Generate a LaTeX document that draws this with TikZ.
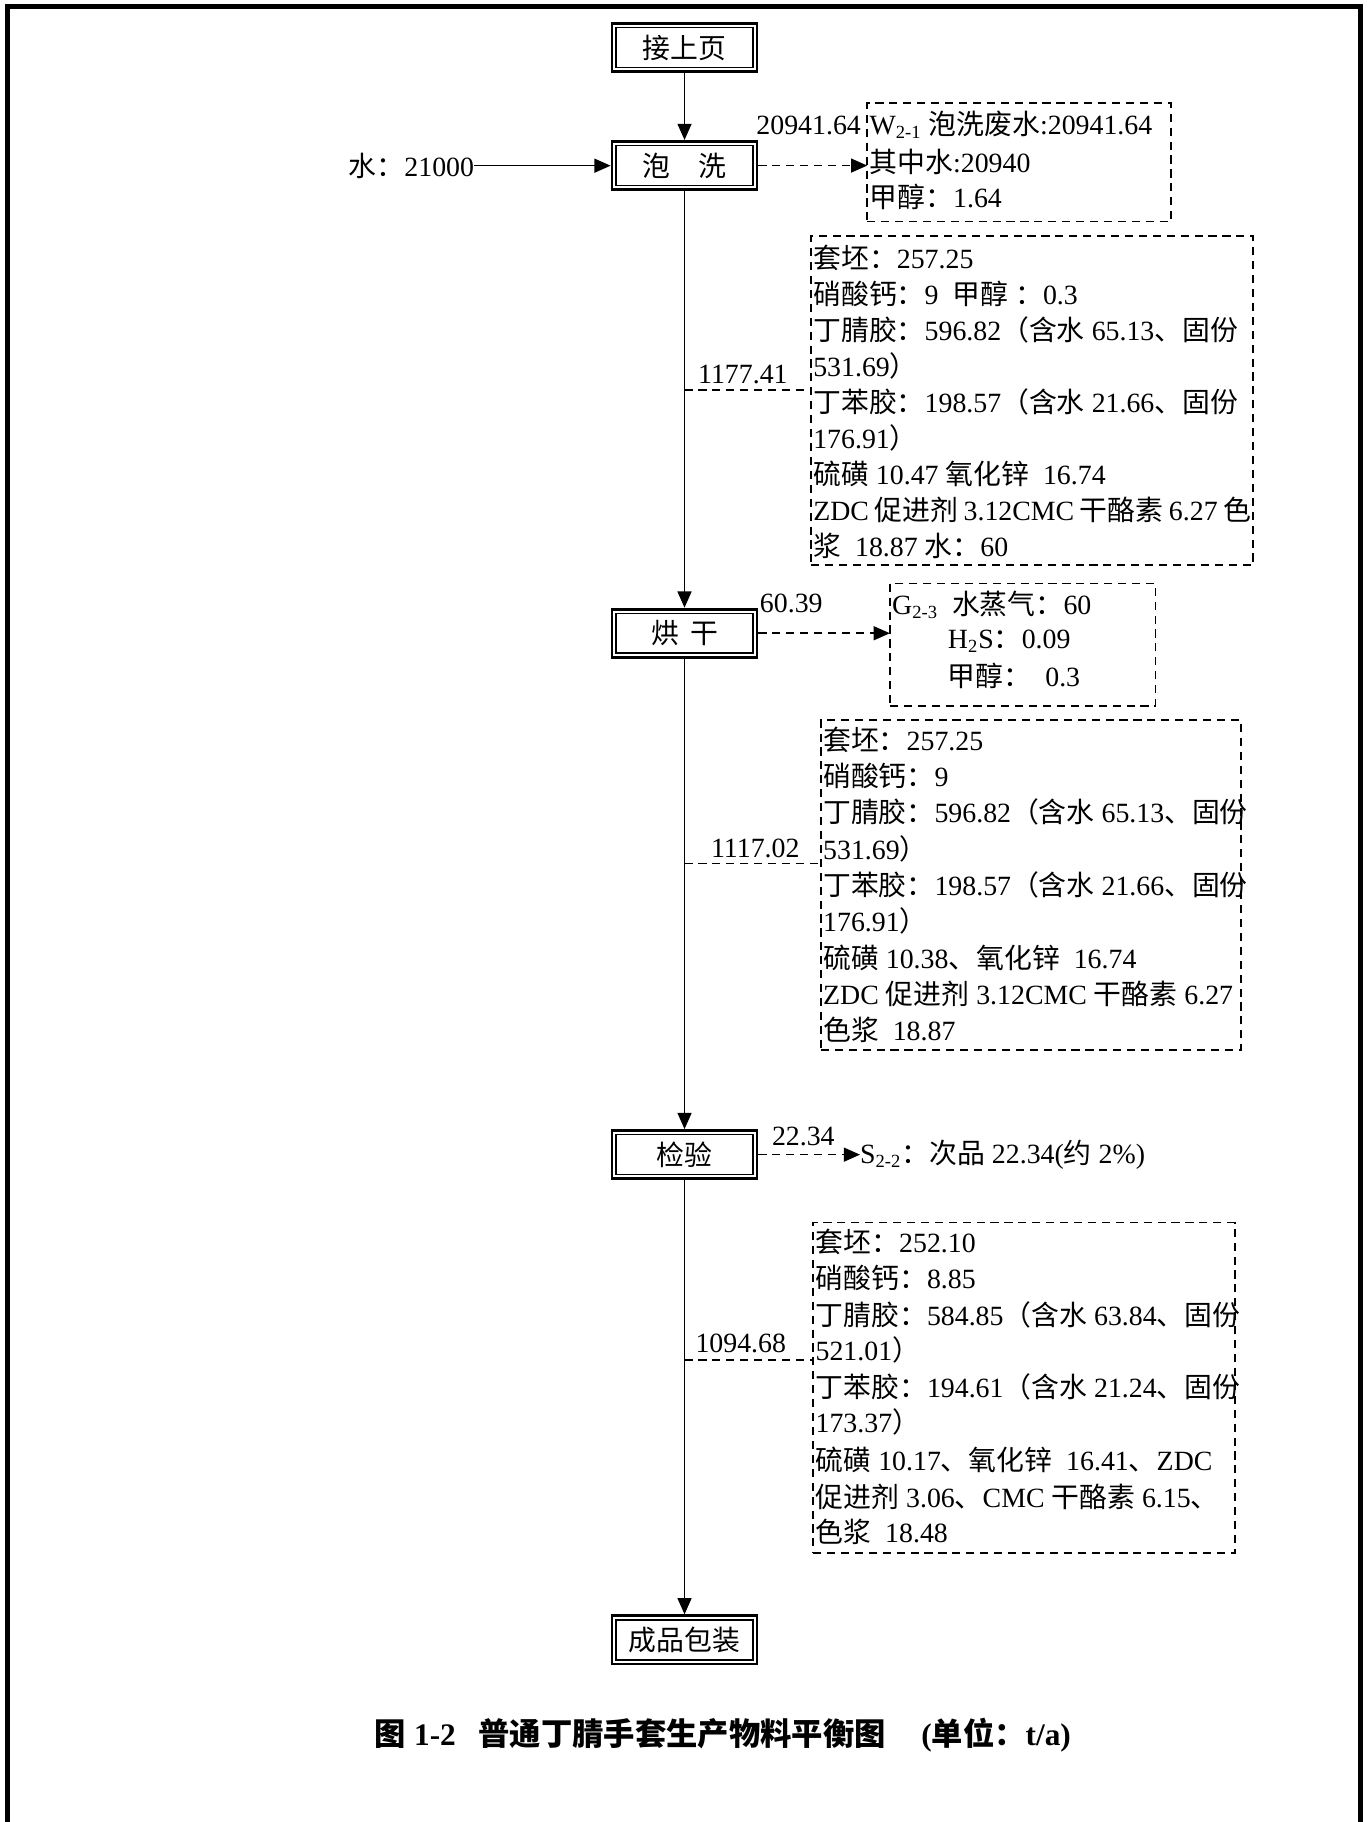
\documentclass[tikz,border=0pt]{standalone}
\usepackage{fontspec}
\setmainfont{Liberation Serif}
\newfontfamily\cjk{Noto Sans CJK SC}
\usetikzlibrary{arrows.meta,calc}
\newcommand\zh[1]{{\cjk #1}}
\begin{document}
\begin{tikzpicture}[x=0.5pt,y=-0.5pt,
  every node/.style={inner sep=0pt, outer sep=0pt, font=\fontsize{12pt}{14pt}\selectfont},
  procbox/.style={draw, line width=1.2pt, outer sep=0.6pt, minimum width=62.5pt, minimum height=20.8pt, inner sep=0pt, font=\fontsize{12pt}{14pt}\selectfont\cjk},
  flow/.style={line width=0.7pt, -{Triangle[length=7pt,width=6pt]}},
  dflow/.style={line width=0.7pt, dash pattern=on 3.5pt off 2.5pt, -{Triangle[length=7pt,width=6pt]}},
  dline/.style={line width=0.7pt, dash pattern=on 3.5pt off 2.5pt},
  dbox/.style={draw, line width=0.7pt, dash pattern=on 3.5pt off 2.5pt},
  txt/.style={anchor=west},
  lbl/.style={anchor=center},
]
\useasboundingbox (0,0) rectangle (1180,1570.4);
% page frame
\draw[line width=2.15pt] (6.5,1590) -- (6.5,5.6) -- (1172.8,5.6) -- (1172.8,1590);

% process boxes
\node[procbox] (jsy) at (590,41) {接上页};
\node[procbox] (px)  at (590,142.7) {泡　洗};
\node[procbox] (hg)  at (590,545.8) {烘\hspace{0.4em}干};
\node[procbox] (jy)  at (590,995.2) {检验};
\node[procbox] (cp)  at (590,1413.4) {成品包装};
\foreach \n in {jsy,px,hg,jy,cp}
  \draw[line width=0.65pt] ([shift={(2.4pt,-2.4pt)}]\n.north west) rectangle ([shift={(-2.4pt,2.4pt)}]\n.south east);

% main flow
\draw[flow] (jsy.south) -- (px.north);
\draw[flow] (px.south) -- (hg.north);
\draw[flow] (hg.south) -- (jy.north);
\draw[flow] (jy.south) -- (cp.north);

% water input
\node[txt] (w0) at (300.6,142.8) {\zh{水：}21000};
\draw[flow] (w0.east) -- (w0.east -| px.west);

% W box
\node[dbox, minimum width=131pt, minimum height=51pt] (wb) at (878.5,140) {};
\node[txt] (wl1) at (749.5,107.7) {W\textsubscript{2-1} \zh{泡洗废水}:20941.64};
\node[txt] (wl2) at (749.5,139.5) {\zh{其中水}:20940};
\node[txt] (wl3) at (749.5,170) {\zh{甲醇：}1.64};
\draw[dflow] (px.east) -- (px.east -| wb.west);
\node[txt] (lw) at (652,107.7) {20941.64};

% box 1
\node[dbox, minimum width=190.5pt, minimum height=141.8pt] (b1) at (889.5,345.2) {};
\node[txt] (b1a) at (701,222) {\zh{套坯：}257.25};
\node[txt] (b1b) at (701,253.1) {\zh{硝酸钙：}9\ \ \zh{甲醇}\ \zh{：}0.3};
\node[txt] (b1c) at (701,284.2) {\zh{丁腈胶：}596.82\zh{（含水} 65.13\zh{、固份}};
\node[txt] (b1d) at (701,315.3) {531.69\zh{）}};
\node[txt] (b1e) at (701,346.4) {\zh{丁苯胶：}198.57\zh{（含水} 21.66\zh{、固份}};
\node[txt] (b1f) at (701,377.5) {176.91\zh{）}};
\node[txt] (b1g) at (701,408.6) {\zh{硫磺} 10.47 \zh{氧化锌}\ \ 16.74};
\node[txt] (b1h) at (701,439.7) {ZDC\hspace{2.4pt}\zh{促进剂}\hspace{2.4pt}3.12CMC\hspace{2.4pt}\zh{干酪素}\hspace{2.4pt}6.27\hspace{2.4pt}\zh{色}};
\node[txt] (b1i) at (701,470.8) {\zh{浆}\ \ 18.87 \zh{水：}60};
\coordinate (t1) at (590,336.2);
\draw[dline] (t1) -- (t1 -| b1.west);
\node[lbl] (l1) at (640.3,322.4) {1177.41};

% G box
\node[dbox, minimum width=114.5pt, minimum height=52.85pt] (gb) at (881.5,555.65) {};
\node[txt] (g1) at (769,521.5) {G\textsubscript{2-3}\ \ \zh{水蒸气：}60};
\node[txt] (g2) at (817,552.5) {H\textsubscript{2}S\zh{：}0.09};
\node[txt] (g3) at (817,582.7) {\zh{甲醇：}\ \ 0.3};
\draw[dflow] (hg.east) -- (hg.east -| gb.west);
\node[txt] (lg) at (655,520) {60.39};

% box 2
\node[dbox, minimum width=181pt, minimum height=142.2pt] (b2) at (888.5,762.8) {};
\node[txt] (b2a) at (709.5,637.8) {\zh{套坯：}257.25};
\node[txt] (b2b) at (709.5,668.8) {\zh{硝酸钙：}9};
\node[txt] (b2c) at (709.5,700) {\zh{丁腈胶：}596.82\zh{（含水} 65.13\zh{、固份}};
\node[txt] (b2d) at (709.5,731.3) {531.69\zh{）}};
\node[txt] (b2e) at (709.5,762.5) {\zh{丁苯胶：}198.57\zh{（含水} 21.66\zh{、固份}};
\node[txt] (b2f) at (709.5,793.8) {176.91\zh{）}};
\node[txt] (b2g) at (709.5,825.5) {\zh{硫磺} 10.38\zh{、氧化锌}\ \ 16.74};
\node[txt] (b2h) at (709.5,857) {ZDC \zh{促进剂} 3.12CMC \zh{干酪素} 6.27};
\node[txt] (b2i) at (709.5,888) {\zh{色浆}\ \ 18.87};
\coordinate (t2) at (590,744.1);
\draw[dline] (t2) -- (t2 -| b2.west);
\node[lbl] (l2) at (651,731.2) {1117.02};

% S output
\node[txt] (sx) at (741.3,995.5) {S\textsubscript{2-2}\zh{：次品} 22.34(\zh{约} 2\%)};
\draw[dflow] (jy.east) -- (jy.east -| sx.west);
\node[txt] (ls) at (665.4,979.7) {22.34};

% box 3
\node[dbox, minimum width=181.85pt, minimum height=142.25pt] (b3) at (882.65,1196.05) {};
\node[txt] (b3a) at (703,1070.2) {\zh{套坯：}252.10};
\node[txt] (b3b) at (703,1101.8) {\zh{硝酸钙：}8.85};
\node[txt] (b3c) at (703,1133.4) {\zh{丁腈胶：}584.85\zh{（含水} 63.84\zh{、固份}};
\node[txt] (b3d) at (703,1163.6) {521.01\zh{）}};
\node[txt] (b3e) at (703,1195.2) {\zh{丁苯胶：}194.61\zh{（含水} 21.24\zh{、固份}};
\node[txt] (b3f) at (703,1225.4) {173.37\zh{）}};
\node[txt] (b3g) at (703,1258.4) {\zh{硫磺} 10.17\zh{、氧化锌}\ \ 16.41\zh{、}ZDC};
\node[txt] (b3h) at (703,1290) {\zh{促进剂} 3.06\zh{、}CMC \zh{干酪素} 6.15\zh{、}};
\node[txt] (b3i) at (703,1320.2) {\zh{色浆}\ \ 18.48};
\coordinate (t3) at (590,1172.2);
\draw[dline] (t3) -- (t3 -| b3.west);
\node[lbl] (l3) at (638.5,1157.8) {1094.68};

% caption
\node[txt, font=\fontsize{13.5pt}{16pt}\selectfont\bfseries] (cap) at (323.2,1495.5)
  {\zh{图} 1-2\hspace{9.75pt}\zh{普通丁腈手套生产物料平衡图}\hspace{15.3pt}(\zh{单位：}t/a)};
\end{tikzpicture}
\end{document}
